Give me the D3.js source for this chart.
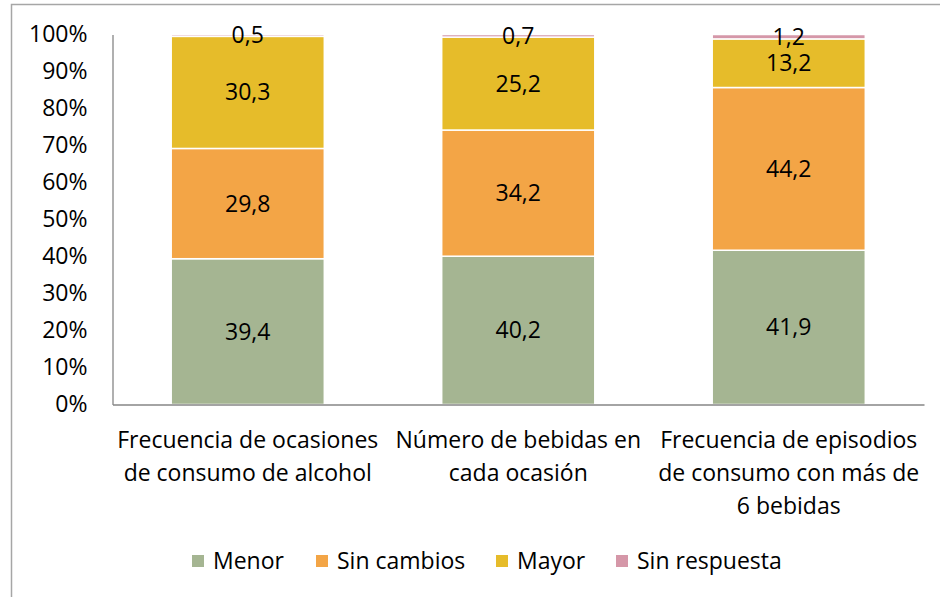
<!DOCTYPE html>
<html>
<head>
<meta charset="utf-8">
<script src="https://cdn.jsdelivr.net/npm/d3@7"></script>
<style>
  body { margin: 0; background: #fff; }
  svg text { font-family: "Open Sans", sans-serif; fill: #000; }
</style>
</head>
<body>
<svg id="chart" width="940" height="597"></svg>
<script>
// categories (each tick label split into its lines)
const categories = ['cat1', 'cat2', 'cat3'];
const categoryLines = [
  ['Frecuencia de ocasiones', 'de consumo de alcohol'],
  ['Número de bebidas en', 'cada ocasión'],
  ['Frecuencia de episodios', 'de consumo con más de', '6 bebidas']
];

// series
const seriesNames = ['Menor', 'Sin cambios', 'Mayor', 'Sin respuesta'];
const menor = [39.4, 40.2, 41.9];
const sinCambios = [29.8, 34.2, 44.2];
const mayor = [30.3, 25.2, 13.2];
const sinRespuesta = [0.5, 0.7, 1.2];
const colors = ['#a5b592', '#f3a546', '#e6bc2a', '#d597a8'];

const yTicks = [0, 0.1, 0.2, 0.3, 0.4, 0.5, 0.6, 0.7, 0.8, 0.9, 1];

const seriesValues = [menor, sinCambios, mayor, sinRespuesta];
const rows = categories.map((c, i) => {
  const r = { cat: c };
  seriesNames.forEach((s, j) => { r[s] = seriesValues[j][i]; });
  return r;
});

const FS = '23px';
const svg = d3.select('#chart');

// outer chart frame
svg.append('rect')
  .attr('x', 11.5).attr('y', 4.5)
  .attr('width', 940).attr('height', 610)
  .attr('fill', 'none').attr('stroke', '#a6a6a6').attr('stroke-width', 1.5);

const plot = { left: 112.5, right: 924, top: 34.5, bottom: 404.5 };

const x = d3.scaleBand()
  .domain(categories)
  .range([plot.left, plot.right])
  .paddingInner(0.434)
  .paddingOuter(0.217);

const y = d3.scaleLinear().domain([0, 1]).range([plot.bottom, plot.top]);

const stacked = d3.stack()
  .keys(seriesNames)
  .offset(d3.stackOffsetExpand)(rows);

const fmt = v => String(v).replace('.', ',');

stacked.forEach((layer, j) => {
  svg.append('g').selectAll('rect')
    .data(layer)
    .join('rect')
    .attr('x', d => x(d.data.cat))
    .attr('width', x.bandwidth())
    .attr('y', d => y(d[1]))
    .attr('height', d => y(d[0]) - y(d[1]))
    .attr('fill', colors[j])
    .attr('stroke', '#fff')
    .attr('stroke-width', 1.5);
});

// data labels on top of all bars
stacked.forEach((layer, j) => {
  svg.append('g').selectAll('text')
    .data(layer)
    .join('text')
    .attr('x', d => x(d.data.cat) + x.bandwidth() / 2)
    .attr('y', d => (y(d[0]) + y(d[1])) / 2)
    .attr('dy', '0.35em')
    .attr('text-anchor', 'middle')
    .style('font-size', FS)
    .text(d => fmt(d.data[seriesNames[j]]));
});

// y axis
const yAxis = svg.append('g')
  .attr('transform', `translate(${plot.left},0)`)
  .call(d3.axisLeft(y).tickValues(yTicks).tickFormat(d3.format('.0%')).tickSize(0).tickPadding(25));
yAxis.select('.domain').attr('stroke', '#868686').attr('stroke-width', 1.3);
yAxis.selectAll('text').style('font-size', FS).attr('fill', '#000');

// x axis
const xAxis = svg.append('g')
  .attr('transform', `translate(0,${plot.bottom})`)
  .call(d3.axisBottom(x).tickSize(0).tickFormat(''));
xAxis.select('.domain').attr('stroke', '#868686').attr('stroke-width', 1.3);

xAxis.selectAll('.tick').each(function (d, i) {
  const t = d3.select(this).append('text')
    .attr('text-anchor', 'middle')
    .style('font-size', FS);
  categoryLines[i].forEach((line, k) => {
    t.append('tspan')
      .attr('x', 0)
      .attr('y', 35 + k * 33)
      .attr('dy', '0.35em')
      .text(line);
  });
});

// legend
const legendX = [192, 316, 496, 616];
const legend = svg.append('g').attr('transform', 'translate(0,561)');
seriesNames.forEach((s, j) => {
  legend.append('rect')
    .attr('x', legendX[j]).attr('y', -6)
    .attr('width', 12).attr('height', 12)
    .attr('fill', colors[j]);
  legend.append('text')
    .attr('x', legendX[j] + 21).attr('y', 0)
    .attr('dy', '0.35em')
    .style('font-size', FS)
    .text(s);
});
</script>
</body>
</html>
